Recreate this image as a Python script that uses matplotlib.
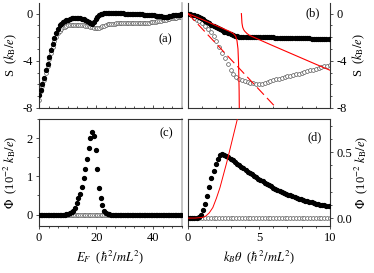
import numpy as np
import matplotlib.pyplot as plt
from matplotlib.ticker import MultipleLocator

plt.rcParams['font.family'] = ['Liberation Serif', 'DejaVu Serif']
plt.rcParams['mathtext.fontset'] = 'stix'
plt.rcParams['axes.unicode_minus'] = False
plt.rcParams['font.size'] = 9

# ---- data: left panels, E_F grid step 0.6 ----
ef_step = 0.6
s_a_filled = [-6.9, -6.45, -6.0, -5.45, -4.8, -4.23, -3.65, -3.1, -2.55, -2.03,
              -1.62, -1.27, -0.98, -0.84, -0.75, -0.66, -0.58, -0.5, -0.44, -0.4,
              -0.37, -0.35, -0.35, -0.37, -0.4, -0.43, -0.47, -0.53, -0.62, -0.73,
              -0.83, -0.87, -0.7, -0.48, -0.28, -0.12, -0.04, 0.0, 0.02, 0.03,
              0.04, 0.04, 0.04, 0.04, 0.04, 0.03, 0.03, 0.03, 0.02, 0.02,
              0.01, 0.01, 0.0, 0.0, -0.01, -0.02, -0.03, -0.04, -0.05, -0.06,
              -0.07, -0.08, -0.09, -0.1, -0.11, -0.12, -0.13, -0.15, -0.17, -0.2,
              -0.22, -0.24, -0.26, -0.27, -0.27, -0.26, -0.23, -0.19, -0.15, -0.12,
              -0.1, -0.09, -0.08, -0.07]
s_a_open = [-7.3, -6.6, -6.1, -5.6, -5.0, -4.4, -3.85, -3.3, -2.8, -2.35,
            -1.98, -1.68, -1.45, -1.28, -1.17, -1.1, -1.04, -1.0, -0.97, -0.95,
            -0.94, -0.94, -0.94, -0.95, -0.96, -0.98, -1.0, -1.03, -1.06, -1.09,
            -1.12, -1.15, -1.18, -1.2, -1.2, -1.18, -1.13, -1.07, -1.01, -0.96,
            -0.92, -0.89, -0.87, -0.85, -0.84, -0.83, -0.82, -0.81, -0.81, -0.8,
            -0.8, -0.8, -0.8, -0.8, -0.8, -0.8, -0.8, -0.8, -0.79, -0.79,
            -0.79, -0.78, -0.78, -0.77, -0.76, -0.75, -0.73, -0.71, -0.68, -0.65,
            -0.62, -0.59, -0.56, -0.53, -0.5, -0.47, -0.44, -0.41, -0.38, -0.35,
            -0.33, -0.3, -0.28, -0.26]
phi_c_filled = [0.0] * 16 + [0.01, 0.02, 0.03, 0.06, 0.1, 0.18, 0.3, 0.43, 0.55, 0.72,
                              0.95, 1.18, 1.45, 1.75, 2.0, 2.15, 2.06, 1.7, 1.2, 0.7,
                              0.44, 0.24, 0.1, 0.04, 0.02, 0.01] + [0.0] * 42
phi_c_open = [0.0] * 84

# ---- data: right panels, k_B theta ----
th_step_f = 0.15
th_step_o = 0.2
s_b_filled = [0.0, -0.04, -0.09, -0.15, -0.22, -0.3, -0.39, -0.49, -0.6, -0.71,
              -0.82, -0.93, -1.03, -1.13, -1.23, -1.33, -1.43, -1.52, -1.6, -1.67,
              -1.74, -1.8, -1.86, -1.91, -1.94, -1.96, -1.97, -1.97, -1.98, -1.98,
              -1.98, -1.99, -1.99, -1.99, -2.0, -2.0, -2.0, -2.01, -2.01, -2.02,
              -2.02, -2.03, -2.03, -2.04, -2.04, -2.05, -2.05, -2.06, -2.06, -2.07,
              -2.07, -2.08, -2.08, -2.09, -2.09, -2.1, -2.1, -2.1, -2.11, -2.11,
              -2.12, -2.12, -2.12, -2.13, -2.13, -2.13, -2.14]
s_b_open = [0.0, -0.15, -0.35, -0.5, -0.65, -0.83, -1.05, -1.3, -1.6, -1.92,
            -2.35, -2.85, -3.3, -3.8, -4.3, -4.75, -5.15, -5.4, -5.55, -5.65,
            -5.75, -5.83, -5.88, -5.92, -5.94, -5.95, -5.94, -5.9, -5.83, -5.74,
            -5.65, -5.57, -5.5, -5.44, -5.38, -5.32, -5.27, -5.21, -5.15, -5.09,
            -5.02, -4.95, -4.88, -4.81, -4.74, -4.67, -4.6, -4.53, -4.47, -4.42,
            -4.37]
# red analytic curves in (b)
red_left_x = [0, 0.5, 1.0, 1.5, 2.0, 2.5, 3.0, 3.2, 3.35, 3.45, 3.52, 3.56, 3.6, 3.62]
red_left_y = [0, -0.25, -0.5, -0.76, -1.02, -1.28, -1.55, -1.7, -1.9, -2.3, -3.0, -4.2, -6.5, -9.0]
red_right_x = [3.76, 3.8, 3.85, 3.92, 4.0, 4.15, 4.3, 4.5, 5, 6, 7, 8, 9, 10]
red_right_y = [0, -0.8, -1.15, -1.36, -1.5, -1.68, -1.82, -1.93, -2.2, -2.73, -3.25, -3.77, -4.29, -4.8]
red_dash_x = [0, 6.3]
red_dash_y = [0, -8.1]

phi_d_filled = [0.0, 0.0, 0.0, 0.0, 0.002, 0.005, 0.02, 0.06, 0.11, 0.17,
                0.235, 0.3, 0.36, 0.41, 0.45, 0.475, 0.482, 0.478, 0.47, 0.46,
                0.448, 0.436, 0.424, 0.412, 0.4, 0.388, 0.376, 0.364, 0.352, 0.341,
                0.33, 0.319, 0.308, 0.297, 0.287, 0.277, 0.267, 0.258, 0.249, 0.24,
                0.231, 0.223, 0.215, 0.207, 0.199, 0.192, 0.185, 0.178, 0.171, 0.165,
                0.159, 0.153, 0.147, 0.142, 0.137, 0.132, 0.127, 0.122, 0.118, 0.114,
                0.11, 0.106, 0.102, 0.099, 0.096, 0.093, 0.09]
phi_d_open = [0.0] * 51
red_d_x = [0, 0.5, 1.0, 1.25, 1.5, 1.75, 2.0, 2.25, 2.5, 2.75, 3.0, 3.25, 3.5]
red_d_y = [0, 0.0, 0.005, 0.015, 0.04, 0.08, 0.15, 0.23, 0.33, 0.43, 0.54, 0.65, 0.76]

ef_f = np.arange(len(s_a_filled)) * ef_step
ef_o = np.arange(len(s_a_open)) * ef_step
ef_c = np.arange(len(phi_c_filled)) * ef_step
th_f = np.arange(len(s_b_filled)) * th_step_f
th_o = np.arange(len(s_b_open)) * th_step_o
th_df = np.arange(len(phi_d_filled)) * th_step_f
th_do = np.arange(len(phi_d_open)) * th_step_o

W, H = 374, 273
fig = plt.figure(figsize=(W / 100, H / 100), dpi=100)


def box(x0, y0, x1, y1):
    return [x0 / W, 1 - y1 / H, (x1 - x0) / W, (y1 - y0) / H]


ax_a = fig.add_axes(box(39, 3, 182, 108))
ax_b = fig.add_axes(box(188, 3, 330, 108))
ax_c = fig.add_axes(box(39, 119, 182, 226))
ax_d = fig.add_axes(box(188, 119, 330, 226))

dark = '#333333'
filled_kw = dict(linestyle='none', marker='o', markersize=2.8, color='black', zorder=3)
open_kw = dict(linestyle='none', marker='o', markersize=2.7, markerfacecolor='white',
               markeredgecolor='#555555', markeredgewidth=0.5, zorder=2)

for ax in (ax_a, ax_b, ax_c, ax_d):
    for s in ax.spines.values():
        s.set_color(dark)
        s.set_linewidth(0.8)
    ax.tick_params(which='both', direction='out', width=0.6, colors=dark,
                   labelcolor='black', labelsize=9, pad=2)
    ax.tick_params(which='major', length=2.5)
    ax.tick_params(which='minor', length=1.5)

# (a)
ax_a.plot(ef_o, s_a_open, **open_kw)
ax_a.plot(ef_f, s_a_filled, **filled_kw)
ax_a.set_xlim(0, 50)
ax_a.set_ylim(-8, 0.9)
ax_a.spines['top'].set_visible(False)
ax_a.spines['right'].set_color('#bbbbbb')
ax_a.spines['right'].set_linewidth(1.2)
ax_a.xaxis.set_major_locator(MultipleLocator(20))
ax_a.xaxis.set_minor_locator(MultipleLocator(10 / 3))
ax_a.yaxis.set_major_locator(MultipleLocator(4))
ax_a.yaxis.set_minor_locator(MultipleLocator(1))
ax_a.tick_params(axis='x', which='both', labelbottom=False, direction='in')
ax_a.set_ylabel(r'S  ($k_\mathrm{B}/e$)', va='center')
ax_a.yaxis.set_label_coords(-0.2, 0.5)
ax_a.text(0.88, 0.65, '(a)', transform=ax_a.transAxes, ha='center', va='center')

# (b)
ax_b.plot(th_o, s_b_open, **open_kw)
ax_b.plot(th_f, s_b_filled, **filled_kw)
ax_b.plot(red_left_x, red_left_y, color='red', lw=0.8, zorder=4)
ax_b.plot(red_right_x, red_right_y, color='red', lw=0.8, zorder=4)
ax_b.plot(red_dash_x, red_dash_y, color='red', lw=0.8, dashes=(9, 4), zorder=4)
ax_b.set_xlim(0, 10)
ax_b.set_ylim(-8, 0.9)
ax_b.spines['top'].set_visible(False)
ax_b.xaxis.set_major_locator(MultipleLocator(5))
ax_b.xaxis.set_minor_locator(MultipleLocator(1))
ax_b.yaxis.set_major_locator(MultipleLocator(4))
ax_b.yaxis.set_minor_locator(MultipleLocator(1))
ax_b.yaxis.tick_right()
ax_b.yaxis.set_label_position('right')
ax_b.tick_params(axis='x', which='both', labelbottom=False, direction='in')
ax_b.set_ylabel(r'S  ($k_\mathrm{B}/e$)', va='center')
ax_b.yaxis.set_label_coords(1.2, 0.5)
ax_b.text(0.88, 0.9, '(b)', transform=ax_b.transAxes, ha='center', va='center')

# (c)
ax_c.plot(ef_c, phi_c_open, **open_kw)
ax_c.plot(ef_c, phi_c_filled, **filled_kw)
ax_c.set_xlim(0, 50)
ax_c.set_ylim(-0.3, 2.5)
ax_c.spines['right'].set_color('#bbbbbb')
ax_c.spines['right'].set_linewidth(1.2)
ax_c.xaxis.set_major_locator(MultipleLocator(20))
ax_c.xaxis.set_minor_locator(MultipleLocator(10 / 3))
ax_c.yaxis.set_major_locator(MultipleLocator(1))
ax_c.yaxis.set_minor_locator(MultipleLocator(0.5))
ax_c.set_ylabel(r'$\Phi$  (10$^{-2}$ $k_\mathrm{B}/e$)', va='center')
ax_c.yaxis.set_label_coords(-0.2, 0.5)
ax_c.set_xlabel(r'$E_F$  ($\hbar^2/mL^2$)', va='center')
ax_c.xaxis.set_label_coords(0.5, -0.29)
ax_c.text(0.89, 0.87, '(c)', transform=ax_c.transAxes, ha='center', va='center')

# (d)
ax_d.plot(th_do, phi_d_open, **open_kw)
ax_d.plot(th_df, phi_d_filled, **filled_kw)
ax_d.plot(red_d_x, red_d_y, color='red', lw=0.7, zorder=4)
ax_d.set_xlim(0, 10)
ax_d.set_ylim(-0.06, 0.75)
ax_d.xaxis.set_major_locator(MultipleLocator(5))
ax_d.xaxis.set_minor_locator(MultipleLocator(1))
ax_d.yaxis.set_major_locator(MultipleLocator(0.5))
ax_d.yaxis.set_minor_locator(MultipleLocator(0.1))
ax_d.yaxis.set_major_formatter(plt.FormatStrFormatter('%.1f'))
ax_d.yaxis.tick_right()
ax_d.yaxis.set_label_position('right')
ax_d.set_ylabel(r'$\Phi$  (10$^{-2}$ $k_\mathrm{B}/e$)', va='center')
ax_d.yaxis.set_label_coords(1.22, 0.5)
ax_d.set_xlabel(r'$k_B\theta$  ($\hbar^2/mL^2$)', va='center')
ax_d.xaxis.set_label_coords(0.5, -0.29)
ax_d.text(0.89, 0.83, '(d)', transform=ax_d.transAxes, ha='center', va='center')

fig.savefig('out.png', dpi=100)
